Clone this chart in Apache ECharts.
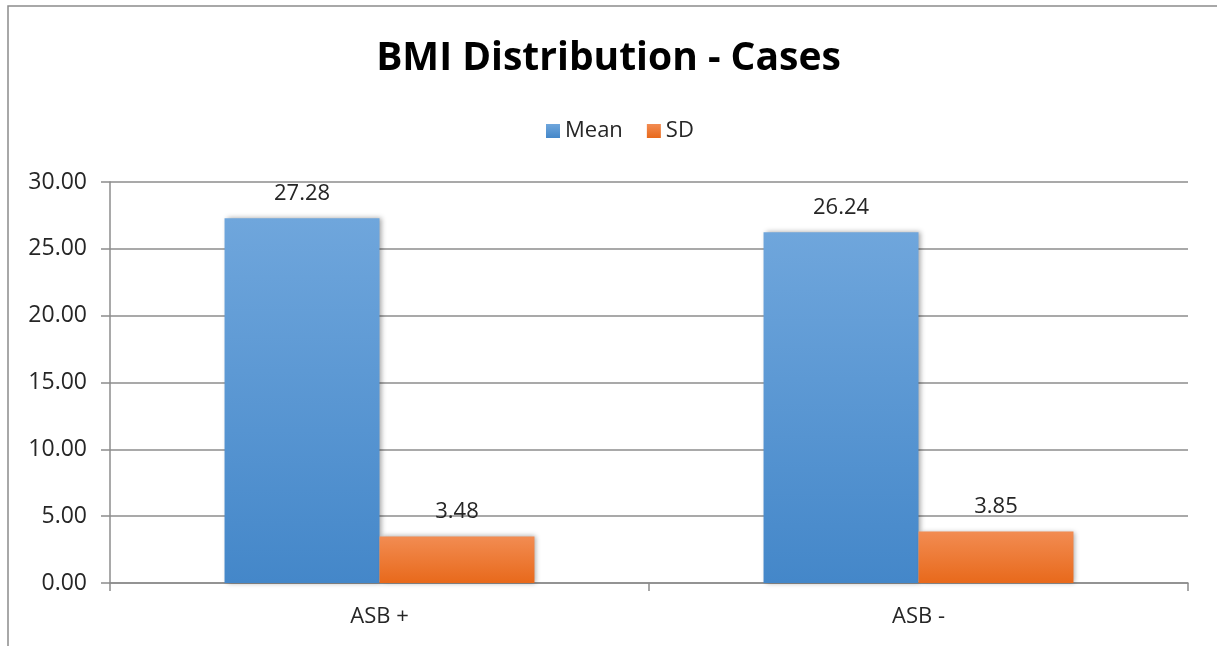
<!DOCTYPE html>
<html>
<head>
<meta charset="utf-8">
<script src="https://cdn.jsdelivr.net/npm/echarts@6/dist/echarts.min.js"></script>
<style>
  html, body { margin: 0; padding: 0; background: #fff; }
  #chart { width: 1217px; height: 646px; }
</style>
</head>
<body>
<div id="chart"></div>
<script>
// BMI distribution of cases, grouped by ASB status
const categories = ['ASB +', 'ASB -'];
const meanValues = [27.28, 26.24];
const sdValues = [3.48, 3.85];
const seriesNames = ['Mean', 'SD'];

const FONT = '"Open Sans", "Noto Sans", sans-serif';
const TEXT = '#262626';
const LINE = '#8c8c8c';

function vGrad(top, bottom) {
  return new echarts.graphic.LinearGradient(0, 0, 0, 1, [
    { offset: 0, color: top },
    { offset: 1, color: bottom }
  ]);
}

const chart = echarts.init(document.getElementById('chart'), null, { renderer: 'canvas' });

const labelStyle = {
  show: true,
  position: 'top',
  distance: 14,
  fontFamily: FONT,
  fontSize: 22,
  color: TEXT,
  formatter: p => p.value.toFixed(2)
};

const barShadow = {
  shadowBlur: 5,
  shadowOffsetX: 2,
  shadowOffsetY: 0,
  shadowColor: 'rgba(0,0,0,0.35)'
};

chart.setOption({
  animation: false,
  backgroundColor: '#fff',
  title: {
    text: 'BMI Distribution - Cases',
    left: 'center',
    top: 34,
    textStyle: { fontFamily: FONT, fontWeight: 'bold', fontSize: 39, color: '#000' }
  },
  legend: {
    data: seriesNames,
    top: 115,
    left: 541,
    itemWidth: 14,
    itemHeight: 14,
    itemGap: 24,
    icon: 'rect',
    textStyle: { fontFamily: FONT, fontSize: 22, color: TEXT }
  },
  graphic: [{
    type: 'rect',
    shape: { x: 8, y: 6, width: 1230, height: 660 },
    style: { fill: 'none', stroke: LINE, lineWidth: 1.5 },
    silent: true,
    z: -1
  }],
  grid: { left: 110, right: 29, top: 182, bottom: 63 },
  xAxis: {
    type: 'category',
    data: categories,
    axisLine: { show: true, lineStyle: { color: LINE, width: 1.5 } },
    axisTick: { show: true, length: 8, lineStyle: { color: LINE, width: 1.5 } },
    axisLabel: { margin: 23, fontFamily: FONT, fontSize: 22, color: TEXT }
  },
  yAxis: {
    type: 'value',
    min: 0,
    max: 30,
    interval: 5,
    axisLine: { show: true, lineStyle: { color: LINE, width: 1.5 } },
    axisTick: { show: true, length: 9, lineStyle: { color: LINE, width: 1.5 } },
    axisLabel: {
      margin: 23,
      fontFamily: FONT,
      fontSize: 23,
      color: TEXT,
      formatter: v => v.toFixed(2)
    },
    splitLine: { lineStyle: { color: LINE, width: 1.5 } }
  },
  series: [
    {
      name: seriesNames[0],
      type: 'bar',
      data: meanValues,
      barGap: '0%',
      barCategoryGap: '42.5%',
      itemStyle: Object.assign({ color: vGrad('#6fa6dc', '#4487c9') }, barShadow),
      label: labelStyle
    },
    {
      name: seriesNames[1],
      type: 'bar',
      data: sdValues,
      itemStyle: Object.assign({ color: vGrad('#f28c52', '#e8691b') }, barShadow),
      label: labelStyle
    }
  ]
});
</script>
</body>
</html>
